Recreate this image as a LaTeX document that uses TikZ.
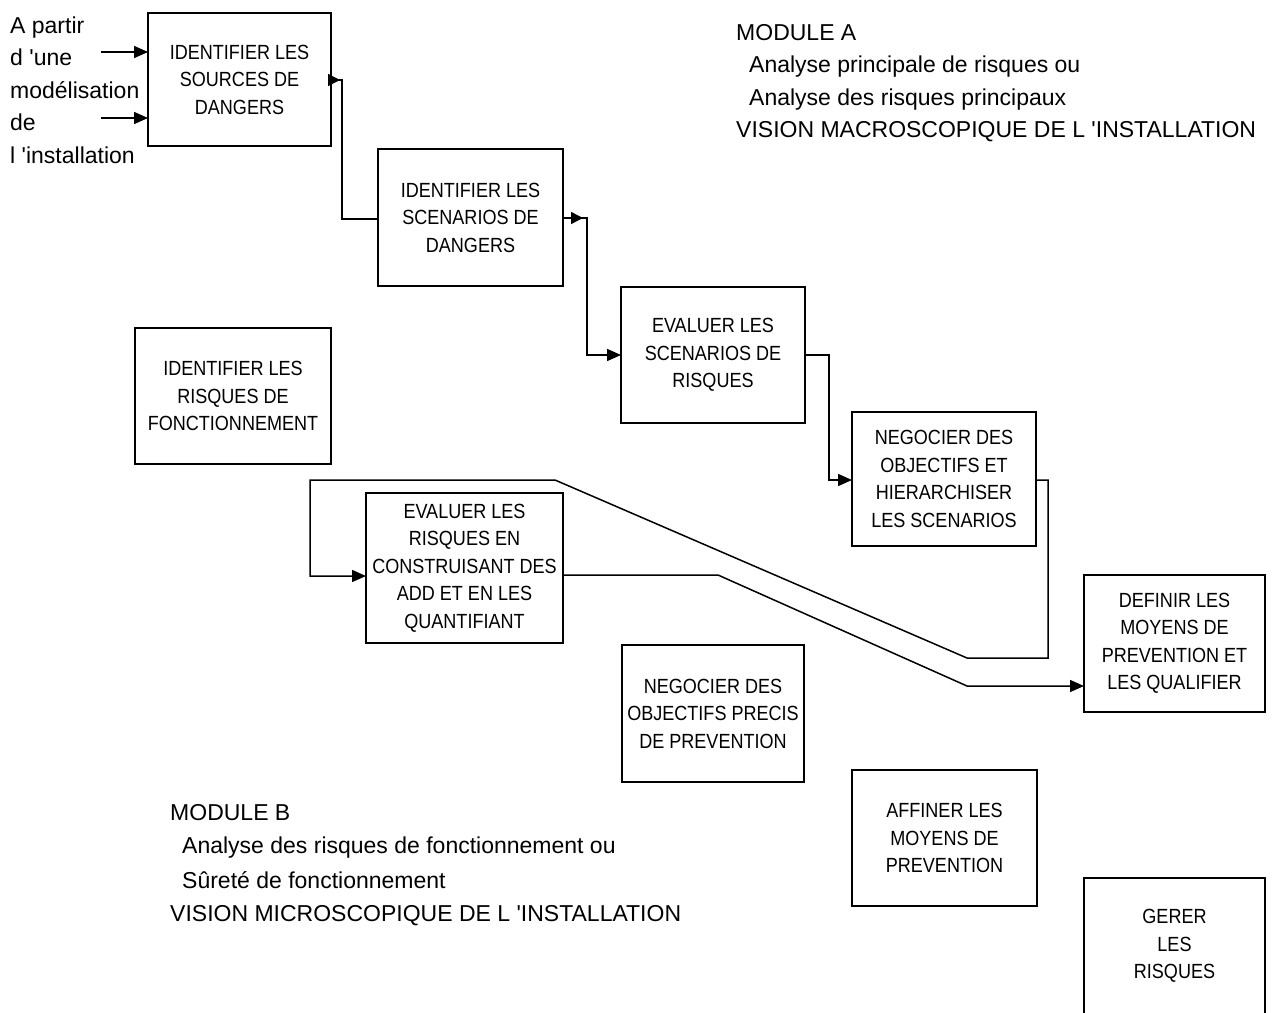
\documentclass[tikz,border=0pt]{standalone}
\usepackage{fontspec}
\setmainfont{Liberation Sans}[Ligatures=TeXOff]
\newfontfamily\boxfont{Liberation Sans}[FakeStretch=0.88,Ligatures=TeXOff]
\usetikzlibrary{arrows.meta,decorations.markings}
\begin{document}
\begin{tikzpicture}[x=1pt,y=-1pt,
  box/.style={draw, line width=1.6pt, rectangle, anchor=north west, inner sep=0pt, outer sep=0pt},
  btext/.style={align=center, font=\boxfont\fontsize{20.5}{27.5}\selectfont, inner sep=0pt},
  free/.style={anchor=base west, inner sep=0pt, font=\fontsize{23}{28}\selectfont},
  conn/.style={line width=1.5pt},
  >={Triangle[length=14pt,width=12pt]},
  tipat/.style={postaction={decorate,decoration={markings,mark=at position #1 with {\arrow{Triangle[length=12pt,width=12pt]}}}}}
]
\fill[white] (0,0) rectangle (1276,1012);
\useasboundingbox (0,0) rectangle (1276,1012);

% boxes
\node[box, minimum width=183, minimum height=133, label={[btext]center:{IDENTIFIER LES\\SOURCES DE\\DANGERS}}] (b1) at (148,13) {};
\node[box, minimum width=185, minimum height=137, label={[btext]center:{IDENTIFIER LES\\SCENARIOS DE\\DANGERS}}] (b2) at (378,149) {};
\node[box, minimum width=184, minimum height=136, label={[btext]center:{EVALUER LES\\SCENARIOS DE\\RISQUES}}] (b3) at (621,287) {};
\node[box, minimum width=184, minimum height=134, label={[btext]center:{NEGOCIER DES\\OBJECTIFS ET\\HIERARCHISER\\LES SCENARIOS}}] (b4) at (852,412) {};
\node[box, minimum width=197, minimum height=150, label={[btext]center:{EVALUER LES\\RISQUES EN\\CONSTRUISANT DES\\ADD ET EN LES\\QUANTIFIANT}}] (b5) at (366,493) {};
\node[box, minimum width=181, minimum height=137, label={[btext]center:{DEFINIR LES\\MOYENS DE\\PREVENTION ET\\LES QUALIFIER}}] (b6) at (1084,575) {};
\node[box, minimum width=196, minimum height=136, label={[btext]center:{IDENTIFIER LES\\RISQUES DE\\FONCTIONNEMENT}}] (bf) at (135,328) {};
\node[box, minimum width=182, minimum height=137, label={[btext]center:{NEGOCIER DES\\OBJECTIFS PRECIS\\DE PREVENTION}}] (bp) at (622,645) {};
\node[box, minimum width=185, minimum height=136, label={[btext]center:{AFFINER LES\\MOYENS DE\\PREVENTION}}] (ba) at (852,770) {};
\node[box, minimum width=181, minimum height=136, label={[btext]center:{GERER\\LES\\RISQUES}}] (bg) at (1084,878) {};

% free texts
\node[free] (t1) at (10,33) {A partir};
\node[free] (t2) at (10,65.5) {d 'une};
\node[free] (t3) at (10,98) {modélisation};
\node[free] (t4) at (10,130.5) {de};
\node[free] (t5) at (10,163) {l 'installation};

\node[free] (ma1) at (736,40) {MODULE A};
\node[free] (ma2) at (749,72) {Analyse principale de risques ou};
\node[free] (ma3) at (749,105) {Analyse des risques principaux};
\node[free] (ma4) at (736,137) {VISION MACROSCOPIQUE DE L 'INSTALLATION};

\node[free] (mb1) at (170,820) {MODULE B};
\node[free] (mb2) at (182,853) {Analyse des risques de fonctionnement ou};
\node[free] (mb3) at (182,888) {Sûreté de fonctionnement};
\node[free] (mb4) at (170,921) {VISION MICROSCOPIQUE DE L 'INSTALLATION};

% inputs
\coordinate (s1) at (101,52);
\coordinate (s2) at (101,118);
\draw[conn,->] (s1) -- (b1.west |- s1);
\draw[conn,->] (s2) -- (b1.west |- s2);

% connectors
\draw[conn, tipat=9pt] (b1.east |- 0,80) -| (342,219) -- (b2.west |- 0,219);
\draw[conn, ->, tipat=20pt] (b2.east |- 0,218) -| (587,355) -- (b3.west |- 0,355);
\draw[conn, ->] (b3.east |- 0,355) -| (829,480) -- (b4.west |- 0,480);
\draw[conn, ->] (b4.east |- 0,480) -| (1048,658) -- (967,658) -- (555,480) -- (310,480) |- (b5.west |- 0,576);
\draw[conn, ->] (b5.east |- 0,575) -- (718,575) -- (967,686) -- (b6.west |- 0,686);
\end{tikzpicture}
\end{document}
